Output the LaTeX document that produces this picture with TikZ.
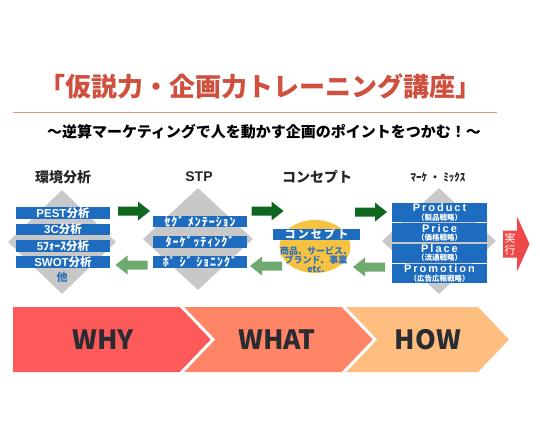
\documentclass[tikz,border=0pt]{standalone}
\usepackage{fontspec}
\setmainfont{Liberation Sans}
\newfontfamily\cjk{Noto Sans CJK JP}
\usetikzlibrary{shapes.geometric}

\definecolor{titlered}{RGB}{207,80,62}
\definecolor{rulered}{RGB}{230,150,135}
\definecolor{diagray}{RGB}{200,200,200}
\definecolor{barblue}{RGB}{30,108,192}
\definecolor{txtblue}{RGB}{46,112,185}
\definecolor{fwdgreen}{RGB}{16,104,32}
\definecolor{bwdgreen}{RGB}{112,170,112}
\definecolor{conyellow}{RGB}{246,194,64}
\definecolor{execred}{RGB}{240,72,72}
\definecolor{whycol}{RGB}{255,90,90}
\definecolor{whatcol}{RGB}{255,133,102}
\definecolor{howcol}{RGB}{253,190,128}
\definecolor{chevtxt}{RGB}{43,43,50}

\tikzset{
	diabg/.style={diamond, fill=diagray, inner sep=0pt},
	bar/.style={fill=barblue, text=white, inner sep=0pt, minimum width=94pt, minimum height=10pt, font=\bfseries\fontsize{11.5}{11}\selectfont},
	stpbar/.style={bar, font=\cjk\bfseries\addfontfeature{LetterSpace=8}\fontsize{12}{11}\selectfont},
	mixbar/.style={fill=barblue, inner sep=0pt, minimum width=95pt, minimum height=19pt},
	mixtxt/.style={text=white, inner sep=0pt, align=center, font=\bfseries\addfontfeature{LetterSpace=18}\fontsize{11}{8.5}\selectfont},
	head/.style={font=\cjk\bfseries\fontsize{14}{14}\selectfont, text=black!85},
	chevlabel/.style={font=\cjk\bfseries\fontsize{26.5}{26.5}\selectfont, text=chevtxt},
}

\begin{document}
\begin{tikzpicture}[x=1pt, y=-1pt]
	\useasboundingbox (0,0) rectangle (540,445);

	\coordinate (F1) at (134,211);
	\coordinate (B1) at (131.5,265);
	\coordinate (F2) at (267.5,211);
	\coordinate (B2) at (266,266);
	\coordinate (F3) at (371,212);
	\coordinate (B3) at (369,267);

	% Title
	\node[font=\cjk\bfseries\fontsize{26}{26}\selectfont, text=titlered] (title) at (260,86) {「仮説力・企画力トレーニング講座」};
	\coordinate (RL) at (13,112);
	\coordinate (RR) at (497,112);
	\draw[rulered, line width=0.8pt] (RL) -- (RR);
	\node[font=\cjk\bfseries\fontsize{15}{15}\selectfont] (subtitle) at (264,132) {〜逆算マーケティングで人を動かす企画のポイントをつかむ！〜};

	% Column heads
	\node[head] (h1) at (63,177) {環境分析};
	\node[head, font=\bfseries\fontsize{14}{14}\selectfont] (h2) at (199,177) {STP};
	\node[head] (h3) at (317,177) {コンセプト};
	\node[head, font=\cjk\bfseries\fontsize{11}{11}\selectfont] (h4) at (438,177) {ﾏｰｹ ・ ﾐｯｸｽ};

	% Environment analysis
	\node[diabg, minimum width=108pt, minimum height=104pt] (d1) at (62,242) {};
	\node[bar] (pest) at (63,213) {PEST{\cjk 分析}};
	\node[bar] (threec) at (63,229.5) {3C{\cjk 分析}};
	\node[bar] (five) at (63,246) {5{\cjk ﾌｫｰｽ分析}};
	\node[bar] (swot) at (63,262) {SWOT{\cjk 分析}};
	\node[font=\cjk\bfseries\fontsize{11}{11}\selectfont, text=txtblue] (etc1) at (62,277) {他};

	% STP
	\node[diabg, minimum width=110pt, minimum height=102pt] (d2) at (198,239) {};
	\node[stpbar] (seg) at (200,221.5) {ｾｸﾞ ﾒﾝﾃｰｼｮﾝ};
	\node[stpbar] (tar) at (200,242) {ﾀｰｹﾞｯﾃｨﾝｸﾞ};
	\node[stpbar] (pos) at (200,262) {ﾎﾟ ｼﾞ ｼｮﾆﾝｸﾞ};

	% Concept
	\node[ellipse, fill=conyellow, inner sep=0pt, minimum width=71pt, minimum height=53pt] (con) at (315,246.5) {};
	\node[bar, minimum width=87pt, minimum height=11pt, font=\cjk\bfseries\addfontfeature{LetterSpace=20}\fontsize{11}{11}\selectfont] (conbar) at (316.5,234.5) {コンセプト};
	\node[align=center, text=txtblue, font=\cjk\bfseries\fontsize{9}{9}\selectfont] (contxt) at (316,259.5) {商品、サービス、\\ブランド、事業\\etc.};

	% Marketing mix
	\node[diabg, minimum width=114pt, minimum height=106pt] (d4) at (439,241) {};
	\node[mixbar] (prod) at (439.5,212.5) {};
	\node[mixbar] (price) at (439.5,232.8) {};
	\node[mixbar] (place) at (439.5,253.1) {};
	\node[mixbar] (promo) at (439.5,273.4) {};
	\node[mixtxt] (prodt) at (prod) {Product\\{\cjk\fontsize{7.5}{7.5}\selectfont （製品戦略）}};
	\node[mixtxt] (pricet) at (price) {Price\\{\cjk\fontsize{7.5}{7.5}\selectfont （価格戦略）}};
	\node[mixtxt] (placet) at (place) {Place\\{\cjk\fontsize{7.5}{7.5}\selectfont （流通戦略）}};
	\node[mixtxt] (promot) at (promo) {Promotion\\{\cjk\fontsize{7.5}{7.5}\selectfont （広告広報戦略）}};

	% Block arrows
	\fill[fwdgreen] (F1) ++(-16,-4.5) -- ++(20,0) -- ++(0,-5) -- ++(12,9.5) -- ++(-12,9.5) -- ++(0,-5) -- ++(-20,0) -- cycle;
	\fill[fwdgreen] (F2) ++(-16,-4.5) -- ++(20,0) -- ++(0,-5) -- ++(12,9.5) -- ++(-12,9.5) -- ++(0,-5) -- ++(-20,0) -- cycle;
	\fill[fwdgreen] (F3) ++(-16,-4.5) -- ++(20,0) -- ++(0,-5) -- ++(12,9.5) -- ++(-12,9.5) -- ++(0,-5) -- ++(-20,0) -- cycle;
	\fill[bwdgreen] (B1) ++(16,-4.5) -- ++(-20,0) -- ++(0,-5) -- ++(-12,9.5) -- ++(12,9.5) -- ++(0,-5) -- ++(20,0) -- cycle;
	\fill[bwdgreen] (B2) ++(16,-4.5) -- ++(-20,0) -- ++(0,-5) -- ++(-12,9.5) -- ++(12,9.5) -- ++(0,-5) -- ++(20,0) -- cycle;
	\fill[bwdgreen] (B3) ++(16,-4.5) -- ++(-20,0) -- ++(0,-5) -- ++(-12,9.5) -- ++(12,9.5) -- ++(0,-5) -- ++(20,0) -- cycle;

	% Execution arrow
	\fill[execred] (503,230.5) -- (517,230.5) -- (517,216.5) -- (529.5,244) -- (517,271.5) -- (517,257.5) -- (503,257.5) -- cycle;
	\node[align=center, text=white, font=\cjk\fontsize{11}{12}\selectfont] (exec) at (510,244) {実\\行};

	% WHY / WHAT / HOW
	\fill[whycol] (13,307) -- (182,307) -- (213,339.5) -- (182,372) -- (13,372) -- cycle;
	\fill[whatcol] (182,307) -- (344,307) -- (375,339.5) -- (344,372) -- (182,372) -- (213,339.5) -- cycle;
	\fill[howcol] (344,307) -- (478,307) -- (509,339.5) -- (478,372) -- (344,372) -- (375,339.5) -- cycle;
	\draw[white, line width=3pt] (180,305) -- (213,339.5) -- (180,374);
	\draw[white, line width=3pt] (342,305) -- (375,339.5) -- (342,374);
	\node[chevlabel] (why) at (103,340) {WHY};
	\node[chevlabel] (what) at (277,340) {WHAT};
	\node[chevlabel] (how) at (428,340) {HOW};
\end{tikzpicture}
\end{document}
